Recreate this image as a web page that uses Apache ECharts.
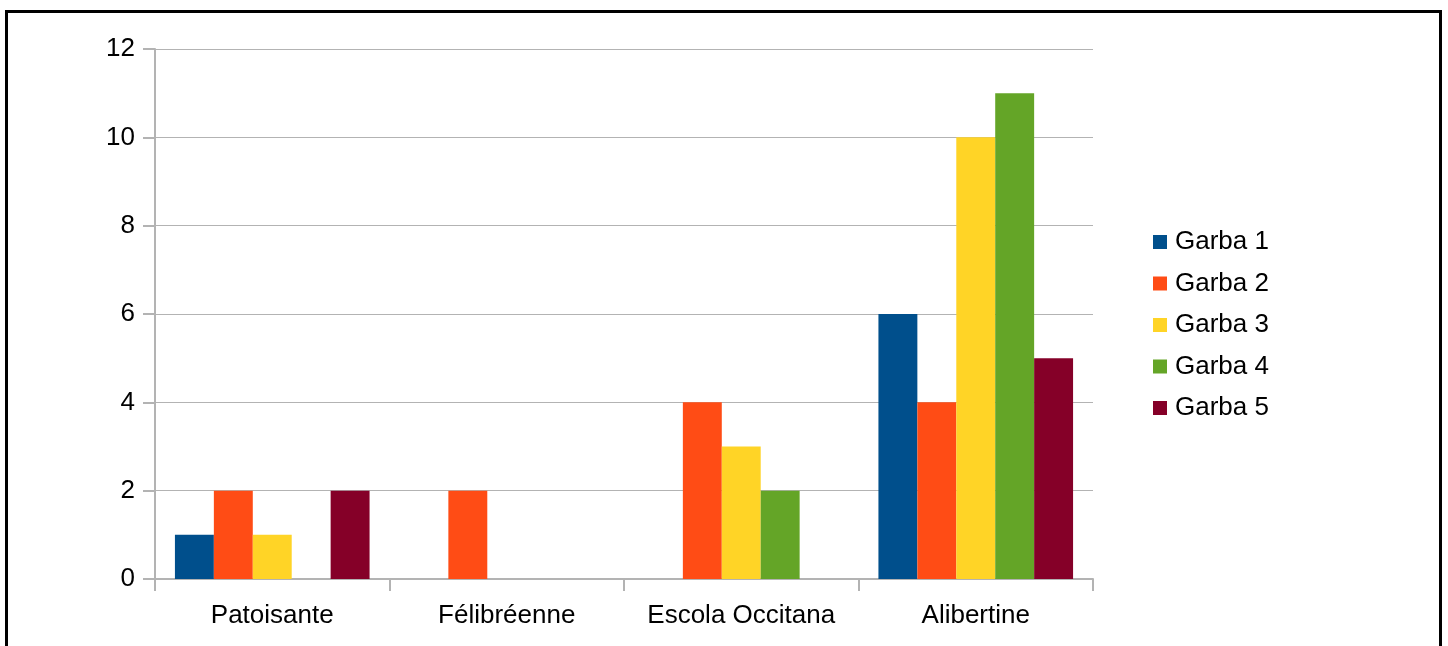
<!DOCTYPE html>
<html>
<head>
<meta charset="utf-8">
<title>Garbas</title>
<script src="https://cdn.jsdelivr.net/npm/echarts@6/dist/echarts.min.js"></script>
<style>
  html, body { margin: 0; padding: 0; background: #fff; }
  #frame { position: absolute; left: 5px; top: 10px; width: 1431px; height: 700px;
           border: 3px solid #000; border-bottom: none; }
  #main { position: absolute; left: 0; top: 0; width: 1448px; height: 646px; }
</style>
</head>
<body>
<div id="frame"></div>
<div id="main"></div>
<script type="text/javascript">
  // categories and values
  var categories = ['Patoisante', 'Félibréenne', 'Escola Occitana', 'Alibertine'];
  var seriesNames = ['Garba 1', 'Garba 2', 'Garba 3', 'Garba 4', 'Garba 5'];
  var garba1 = [1, 0, 0, 6];
  var garba2 = [2, 2, 4, 4];
  var garba3 = [1, 0, 3, 10];
  var garba4 = [0, 0, 2, 11];
  var garba5 = [2, 0, 0, 5];
  var colors = ['#004f8c', '#ff4c15', '#ffd426', '#64a527', '#850028'];

  var allData = [garba1, garba2, garba3, garba4, garba5];
  var series = [];
  for (var i = 0; i < seriesNames.length; i++) {
    series.push({
      name: seriesNames[i],
      type: 'bar',
      data: allData[i],
      barGap: '0%',
      barCategoryGap: '17%',
      itemStyle: { color: colors[i] }
    });
  }

  var chart = echarts.init(document.getElementById('main'));
  chart.setOption({
    animation: false,
    color: colors,
    textStyle: { fontFamily: 'Liberation Sans' },
    grid: { left: 155, right: 355, top: 49, bottom: 67 },
    legend: {
      orient: 'vertical',
      left: 1153,
      top: 229,
      padding: 0,
      icon: 'rect',
      itemWidth: 14,
      itemHeight: 14,
      itemGap: 15.5,
      textStyle: { fontSize: 26, color: '#000', fontFamily: 'Liberation Sans', padding: [0, 0, 0, 3] },
      data: seriesNames
    },
    xAxis: {
      type: 'category',
      data: categories,
      axisLine: { lineStyle: { color: '#b3b3b3', width: 2 } },
      axisTick: { show: true, alignWithLabel: false, length: 12, lineStyle: { color: '#b3b3b3', width: 2 } },
      axisLabel: { fontSize: 26, color: '#000', margin: 24, interval: 0 }
    },
    yAxis: {
      type: 'value',
      min: 0,
      max: 12,
      interval: 2,
      axisLine: { show: true, lineStyle: { color: '#b3b3b3', width: 2 } },
      axisTick: { show: true, length: 12, lineStyle: { color: '#b3b3b3', width: 2 } },
      splitLine: { lineStyle: { color: '#b3b3b3', width: 1 } },
      axisLabel: { fontSize: 26, color: '#000', margin: 20 }
    },
    series: series
  });
</script>
</body>
</html>
